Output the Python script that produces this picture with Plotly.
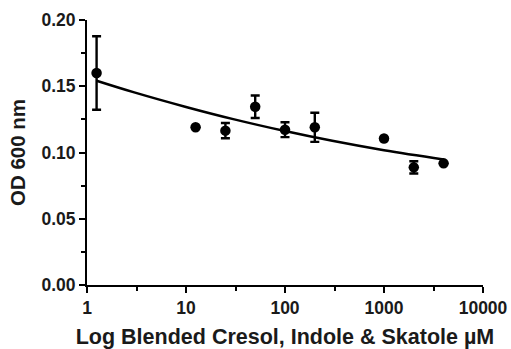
import plotly.graph_objects as go

# Data
conc = [1.25, 12.5, 25, 50, 100, 200, 1000, 2000, 4000]
od = [0.160, 0.119, 0.1165, 0.1345, 0.1172, 0.119, 0.1106, 0.0888, 0.0918]
od_err = [0.0277, 0.0, 0.0058, 0.0085, 0.0056, 0.011, 0.0, 0.0046, 0.0]

# Fitted curve, values
fit_x = [1.25, 3, 10, 30, 100, 300, 1000, 4000]
fit_y = [0.1542, 0.1454, 0.1344, 0.1252, 0.1162, 0.1088, 0.1017, 0.0948]

x_ticks = [1, 10, 100, 1000, 10000]
x_tick_text = ["1", "10", "100", "1000", "10000"]
x_minor = [3.1623, 31.623, 316.23, 3162.3]

font_family = "Liberation Sans, Arial, sans-serif"
txt = "#1a1a1a"

fig = go.Figure()
fig.add_trace(go.Scatter(
    x=fit_x, y=fit_y, mode="lines", line=dict(color="black", width=2.5, shape="spline"),
    hoverinfo="skip", showlegend=False))
fig.add_trace(go.Scatter(
    x=conc, y=od, mode="markers",
    marker=dict(color="black", size=10.5, symbol="circle"),
    error_y=dict(type="data", array=od_err, visible=True, color="black", thickness=2.4, width=4.5),
    showlegend=False))

fig.update_layout(
    width=511, height=349,
    margin=dict(l=87, r=28, t=20, b=64),
    paper_bgcolor="white", plot_bgcolor="white",
    font=dict(family=font_family, color=txt, size=17, weight="bold"),
    xaxis=dict(
        type="log", range=[0, 4], automargin=False,
        tickmode="array", tickvals=x_ticks, ticktext=x_tick_text,
        ticks="outside", ticklen=6, tickwidth=2, tickcolor="black",
        showline=True, linecolor="black", linewidth=2,
        showgrid=False, zeroline=False,
        tickfont=dict(size=17.5, family=font_family, weight="bold", color=txt),
        minor=dict(tickmode="array", tickvals=x_minor, ticks="outside", ticklen=4,
                   tickwidth=2, tickcolor="black", showgrid=False),
        title=dict(text="Log Blended Cresol, Indole & Skatole µM",
                   font=dict(size=21.5, family=font_family, weight="bold", color=txt),
                   standoff=12),
    ),
    yaxis=dict(
        range=[0, 0.2], automargin=False,
        tickmode="linear", tick0=0, dtick=0.05, tickformat=".2f",
        ticks="outside", ticklen=6, tickwidth=2, tickcolor="black",
        showline=True, linecolor="black", linewidth=2,
        showgrid=False, zeroline=False,
        tickfont=dict(size=17.5, family=font_family, weight="bold", color=txt),
        minor=dict(tick0=0.025, dtick=0.05, ticks="outside", ticklen=4,
                   tickwidth=2, tickcolor="black", showgrid=False),
        title=dict(text="OD 600 nm",
                   font=dict(size=20.5, family=font_family, weight="bold", color=txt),
                   standoff=10),
    ),
)

fig.write_html("out.html")
